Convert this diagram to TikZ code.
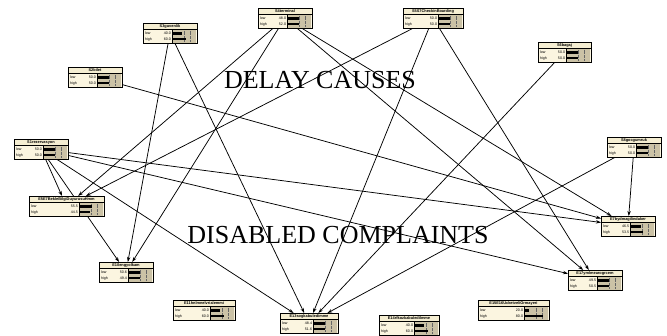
\documentclass[tikz,border=0pt]{standalone}
\usepackage{fontspec}
\setmainfont{Liberation Serif}
\setsansfont{Liberation Sans}
\usetikzlibrary{arrows.meta,backgrounds}
\definecolor{titlefill}{HTML}{F5EED2}
\definecolor{bodyfill}{HTML}{FBF5E0}
\definecolor{barfill}{HTML}{CBC2A6}
\tikzset{
  every picture/.style={line join=round, >=Stealth},
  netbox/.style={draw, fill=bodyfill, line width=0.9pt, minimum height=20pt, inner sep=0pt, outer sep=0pt},
  netline/.style={line width=0.9pt},
  titletext/.style={font=\fontsize{3.9}{4}\selectfont\sffamily\bfseries, inner sep=0pt},
  celltext/.style={font=\fontsize{3.6}{4}\selectfont\sffamily, inner sep=0pt},
  gridline/.style={densely dotted, line width=0.3pt, black!60},
  link/.style={-{Stealth[length=5pt,width=3.4pt]}, line width=0.75pt},
  bigtext/.style={font=\fontsize{26}{26}\selectfont, inner sep=0pt},
}
% name, x, y (top left), width, title, low, high
\newcommand{\netnode}[7]{%
  \node[netbox, minimum width=#4pt, anchor=north west] (#1) at (#2,#3) {};
  \begin{scope}[shift={(#1.north west)}]
    \fill[titlefill] (0,0) rectangle (#4,6.5);
    \draw[line width=0.5pt] (0,6.5) -- (#4,6.5);
    \node[titletext] at ({#4/2},3.4) {#5};
    \fill[barfill] ({#4-25},6.5) rectangle ({#4-1},20);
    \foreach \f in {0.5,0.75}
      \draw[gridline] ({#4-25+24*\f},7.5) -- ++(0,11.5);
    \draw[line width=0.4pt] ({#4-25},6.5) -- ({#4-25},20);
    \node[celltext, anchor=west] at (1.8,10.6) {low};
    \node[celltext, anchor=west] at (1.8,16.2) {high};
    \node[celltext, anchor=east] at ({#4-25.8},10.6) {#6};
    \node[celltext, anchor=east] at ({#4-25.8},16.2) {#7};
    \fill ({#4-25},9.4) rectangle ({#4-25+0.24*#6},11.8);
    \fill ({#4-25},15) rectangle ({#4-25+0.24*#7},17.4);
  \end{scope}
  \draw[netline] (#1.north west) rectangle (#1.south east);
}

\begin{document}
\begin{tikzpicture}[x=1pt,y=-1pt]
\useasboundingbox (0,0) rectangle (667,335);

\netnode{s3}{143}{23}{54}{S3guvenlik}{40.0}{60.0}
\netnode{s4}{258}{8}{54}{S4terminal}{48.0}{52.0}
\netnode{s5s7}{403}{8}{60}{S5S7CheckinBoarding}{50.0}{50.0}
\netnode{s6}{538}{42}{53}{S6bagaj}{50.0}{50.0}
\netnode{s2}{68}{67}{54}{S2bilet}{50.0}{50.0}
\netnode{s1}{14}{139}{54}{S1rezervasyon}{50.0}{50.0}
\netnode{s8}{607}{137}{54}{S8gocgumruk}{50.0}{50.0}
\netnode{e5e7}{29}{196}{75}{E5E7BekleBilgiDuyurusuHmm}{55.5}{44.5}
\netnode{e7}{601}{216}{54}{E7bydmagilindaker}{46.5}{53.5}
\netnode{e10}{99}{262}{54}{E10engyolkam}{50.6}{49.4}
\netnode{e11}{173}{300}{62}{E11hnlmnelvrialemmi}{40.0}{60.0}
\netnode{e13}{280}{313}{58}{E13sogkabuledimme}{48.4}{51.6}
\netnode{e17}{568}{270}{54}{E17ymlmearogrcem}{49.5}{50.5}
\netnode{e15e16}{478}{300}{71}{E15E16UcketveliOrmayeri}{20.0}{80.0}
\netnode{e14}{379}{315}{60}{E14rfkozkabuledilmme}{40.0}{60.0}

\node[bigtext] (delay) at (320,80.5) {DELAY CAUSES};
\node[bigtext] (disabled) at (338,235.5) {DISABLED COMPLAINTS};

\begin{pgfonlayer}{background}
\draw[link] (s1) -- (e5e7);
\draw[link] (s1) -- (e10);
\draw[link] (s1) -- (e13);
\draw[link] (s1) -- (e7);
\draw[link] (s1) -- (e17);
\draw[link] (s2) -- (e7);
\draw[link] (s3) -- (e10);
\draw[link] (s3) -- (e13);
\draw[link] (s4) -- (e5e7);
\draw[link] (s4) -- (e10);
\draw[link] (s4) -- (e7);
\draw[link] (s4) -- (e17);
\draw[link] (s5s7) -- (e5e7);
\draw[link] (s5s7) -- (e13);
\draw[link] (s5s7) -- (e17);
\draw[link] (s6) -- (e13);
\draw[link] (s8) -- (e13);
\draw[link] (s8) -- (e7);
\end{pgfonlayer}
\end{tikzpicture}
\end{document}
